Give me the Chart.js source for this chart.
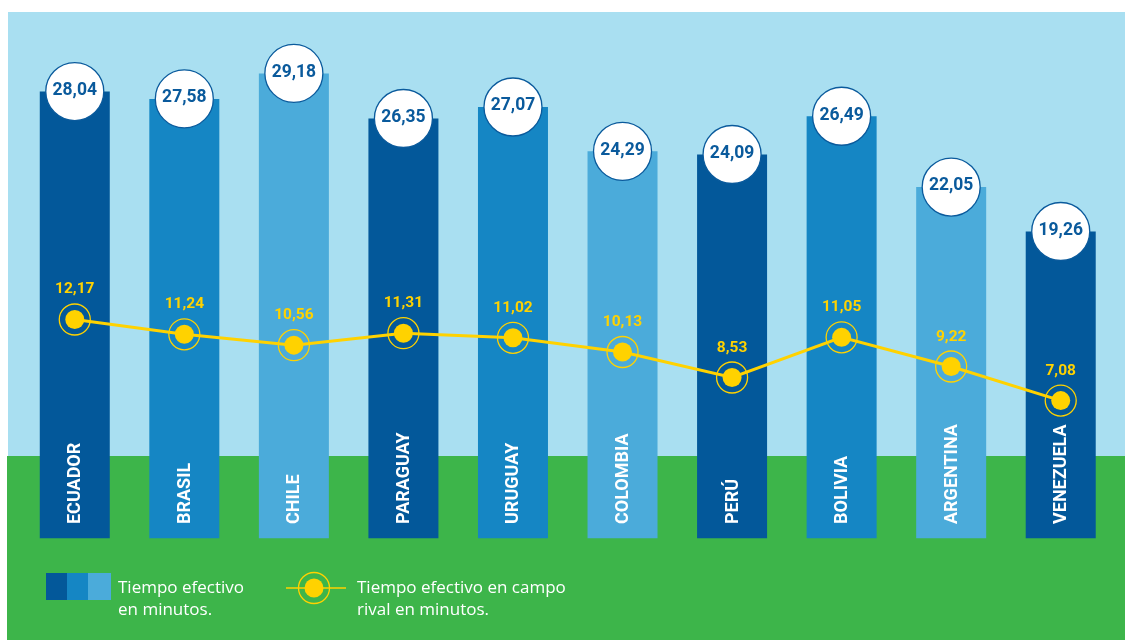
<!DOCTYPE html>
<html>
<head>
<meta charset="utf-8">
<script src="https://cdn.jsdelivr.net/npm/chart.js@4"></script>
<style>
  html, body { margin: 0; padding: 0; background: #ffffff; }
  #wrap { width: 1125px; height: 640px; position: relative; }
</style>
</head>
<body>
<div id="wrap"><canvas id="chart" width="1125" height="640"></canvas></div>
<script>
// datos
const paises = ['ECUADOR', 'BRASIL', 'CHILE', 'PARAGUAY', 'URUGUAY', 'COLOMBIA', 'PERÚ', 'BOLIVIA', 'ARGENTINA', 'VENEZUELA'];
const tiempoEfectivo = [28.04, 27.58, 29.18, 26.35, 27.07, 24.29, 24.09, 26.49, 22.05, 19.26];
const tiempoCampoRival = [12.17, 11.24, 10.56, 11.31, 11.02, 10.13, 8.53, 11.05, 9.22, 7.08];
const coloresBarra = ['#03589a', '#1586c4', '#4babda'];
const leyendaBarras = ['Tiempo efectivo', 'en minutos.'];
const leyendaLinea = ['Tiempo efectivo en campo', 'rival en minutos.'];

const AZUL = '#0a5a9c';
const AMARILLO = '#ffd200';
const fmt = v => v.toFixed(2).replace('.', ',');

// fondo cielo / cancha
const fondo = {
    id: 'fondo',
    beforeDraw(chart) {
        const ctx = chart.ctx;
        ctx.save();
        ctx.fillStyle = '#ffffff';
        ctx.fillRect(0, 0, chart.width, chart.height);
        ctx.fillStyle = '#a9dff1';
        ctx.fillRect(8, 12, chart.width - 8, 445);
        ctx.fillStyle = '#3db54a';
        ctx.fillRect(7, 456, chart.width - 7, chart.height - 456);
        ctx.restore();
    }
};

function anillo(ctx, x, y) {
    ctx.beginPath();
    ctx.arc(x, y, 15.5, 0, Math.PI * 2);
    ctx.strokeStyle = AMARILLO;
    ctx.lineWidth = 1.3;
    ctx.stroke();
}

const etiquetas = {
    id: 'etiquetas',
    afterDatasetsDraw(chart) {
        const ctx = chart.ctx;
        const barras = chart.getDatasetMeta(0).data;
        const puntos = chart.getDatasetMeta(1).data;
        ctx.save();

        // nombres de los paises, verticales
        barras.forEach((b, i) => {
            ctx.save();
            ctx.translate(b.x, 524);
            ctx.rotate(-Math.PI / 2);
            ctx.fillStyle = '#ffffff';
            ctx.font = 'bold 18px Roboto';
            ctx.textAlign = 'left';
            ctx.textBaseline = 'middle';
            ctx.fillText(paises[i], 0, 1);
            ctx.restore();
        });

        // circulos con valores
        barras.forEach((b, i) => {
            ctx.beginPath();
            ctx.arc(b.x, b.y, 29, 0, Math.PI * 2);
            ctx.fillStyle = '#ffffff';
            ctx.fill();
            ctx.strokeStyle = AZUL;
            ctx.lineWidth = 1.3;
            ctx.stroke();
            ctx.fillStyle = AZUL;
            ctx.font = 'bold 17.5px Roboto';
            ctx.textAlign = 'center';
            ctx.textBaseline = 'middle';
            ctx.fillText(fmt(tiempoEfectivo[i]), b.x, b.y - 1);
        });

        // anillos y valores de la linea
        puntos.forEach((p, i) => {
            anillo(ctx, p.x, p.y);
            ctx.fillStyle = AMARILLO;
            ctx.font = 'bold 15.5px Roboto';
            ctx.textAlign = 'center';
            ctx.textBaseline = 'alphabetic';
            ctx.fillText(fmt(tiempoCampoRival[i]), p.x, p.y - 26);
        });

        // leyenda
        coloresBarra.forEach((c, i) => {
            ctx.fillStyle = c;
            ctx.fillRect(46 + i * 21, 573, i === 2 ? 23 : 21, 27);
        });
        ctx.fillStyle = '#ffffff';
        ctx.font = '17px "Open Sans"';
        ctx.textAlign = 'left';
        ctx.textBaseline = 'alphabetic';
        ctx.fillText(leyendaBarras[0], 118, 593);
        ctx.fillText(leyendaBarras[1], 118, 615);

        ctx.beginPath();
        ctx.moveTo(286, 588);
        ctx.lineTo(346, 588);
        ctx.strokeStyle = AMARILLO;
        ctx.lineWidth = 1.5;
        ctx.stroke();
        ctx.beginPath();
        ctx.arc(314, 588, 9.5, 0, Math.PI * 2);
        ctx.fillStyle = AMARILLO;
        ctx.fill();
        anillo(ctx, 314, 588);
        ctx.fillStyle = '#ffffff';
        ctx.fillText(leyendaLinea[0], 357, 593);
        ctx.fillText(leyendaLinea[1], 357, 615);

        ctx.restore();
    }
};

new Chart(document.getElementById('chart'), {
    data: {
        labels: paises,
        datasets: [{
            type: 'bar',
            data: tiempoEfectivo,
            backgroundColor: paises.map((p, i) => coloresBarra[i % 3]),
            categoryPercentage: 1,
            barPercentage: 0.639,
            yAxisID: 'y',
            order: 2
        }, {
            type: 'line',
            data: tiempoCampoRival,
            borderColor: AMARILLO,
            borderWidth: 3,
            tension: 0,
            pointRadius: 9.5,
            pointBackgroundColor: AMARILLO,
            pointBorderWidth: 0,
            yAxisID: 'y2',
            order: 1
        }]
    },
    options: {
        responsive: false,
        animation: false,
        layout: { padding: { left: 20, right: 9, top: 12.5, bottom: 101.5 } },
        plugins: { legend: { display: false }, tooltip: { enabled: false } },
        scales: {
            x: { display: false },
            y: { display: false, min: 0, max: 33 },
            y2: { display: false, min: -1.57, max: 31.43 }
        }
    },
    plugins: [fondo, etiquetas]
});
</script>
</body>
</html>
